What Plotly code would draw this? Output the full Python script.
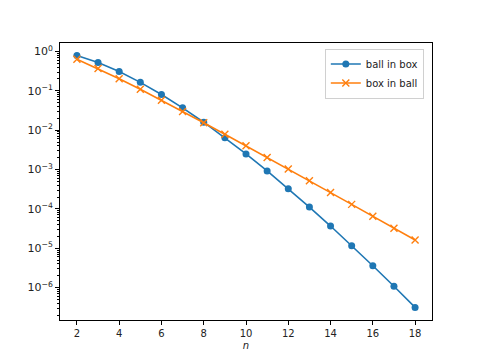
import plotly.graph_objects as go
import math

n = [2, 3, 4, 5, 6, 7, 8, 9, 10, 11, 12, 13, 14, 15, 16, 17, 18]
ball_in_box = [0.785, 0.524, 0.308, 0.164, 0.0807, 0.0369, 0.0159, 0.00644, 0.00249,
               0.000920, 0.000326, 0.000111, 3.66e-5, 1.16e-5, 3.59e-6, 1.08e-6, 3.13e-7]
box_in_ball = [0.637, 0.368, 0.203, 0.109, 0.0573, 0.0299, 0.0154, 0.00789, 0.00402,
               0.00203, 0.00103, 0.000517, 0.000259, 0.000130, 6.48e-5, 3.23e-5, 1.61e-5]

ytick_vals = [1e0, 1e-1, 1e-2, 1e-3, 1e-4, 1e-5, 1e-6]
ytick_text = ["10<sup>0</sup>", "10<sup>−1</sup>", "10<sup>−2</sup>", "10<sup>−3</sup>",
              "10<sup>−4</sup>", "10<sup>−5</sup>", "10<sup>−6</sup>"]
xtick_vals = [2, 4, 6, 8, 10, 12, 14, 16, 18]

minor_vals = [m * 10.0 ** e for e in range(-8, 2) for m in range(2, 10)]

fig = go.Figure()
fig.add_trace(go.Scatter(x=n, y=ball_in_box, mode="lines+markers", name="ball in box",
                         line=dict(color="#1f77b4", width=1.6),
                         marker=dict(symbol="circle", size=7, color="#1f77b4")))
fig.add_trace(go.Scatter(x=n, y=box_in_ball, mode="lines+markers", name="box in ball",
                         line=dict(color="#ff7f0e", width=1.6),
                         marker=dict(symbol="x-thin", size=7,
                                     line=dict(color="#ff7f0e", width=1.4))))

lo = math.log10(min(ball_in_box))
hi = math.log10(max(ball_in_box))
pad = 0.05 * (hi - lo)

# page body has an 8px default margin, so the figure is offset by 8px
fig.update_layout(
    width=472, height=352,
    margin=dict(l=52, r=48, t=35, b=40),
    paper_bgcolor="white", plot_bgcolor="white",
    font=dict(family="DejaVu Sans", size=11, color="#222"),
    showlegend=True,
    legend=dict(x=0.978, y=0.98, xanchor="right", yanchor="top",
                bgcolor="rgba(255,255,255,0.8)", bordercolor="#d0d0d0", borderwidth=1,
                font=dict(size=10), tracegroupgap=0, itemwidth=30),
    xaxis=dict(range=[1.2, 18.8], tickmode="array", tickvals=xtick_vals, automargin=False,
               showgrid=False, zeroline=False, showline=True, linecolor="black",
               linewidth=1, mirror=True, ticks="outside", ticklen=4, tickcolor="black",
               tickfont=dict(size=10),
               title=dict(text="<i>n</i>", standoff=3, font=dict(size=10))),
    yaxis=dict(type="log", range=[lo - pad, hi + pad], tickmode="array", automargin=False,
               tickvals=ytick_vals, ticktext=ytick_text, tickfont=dict(size=11),
               showgrid=False, zeroline=False, showline=True, linecolor="black",
               linewidth=1, mirror=True, ticks="outside", ticklen=4, tickcolor="black",
               minor=dict(tickmode="array", tickvals=minor_vals, ticks="outside",
                          ticklen=2, tickcolor="black", showgrid=False)),
)

fig.write_html("out.html")
